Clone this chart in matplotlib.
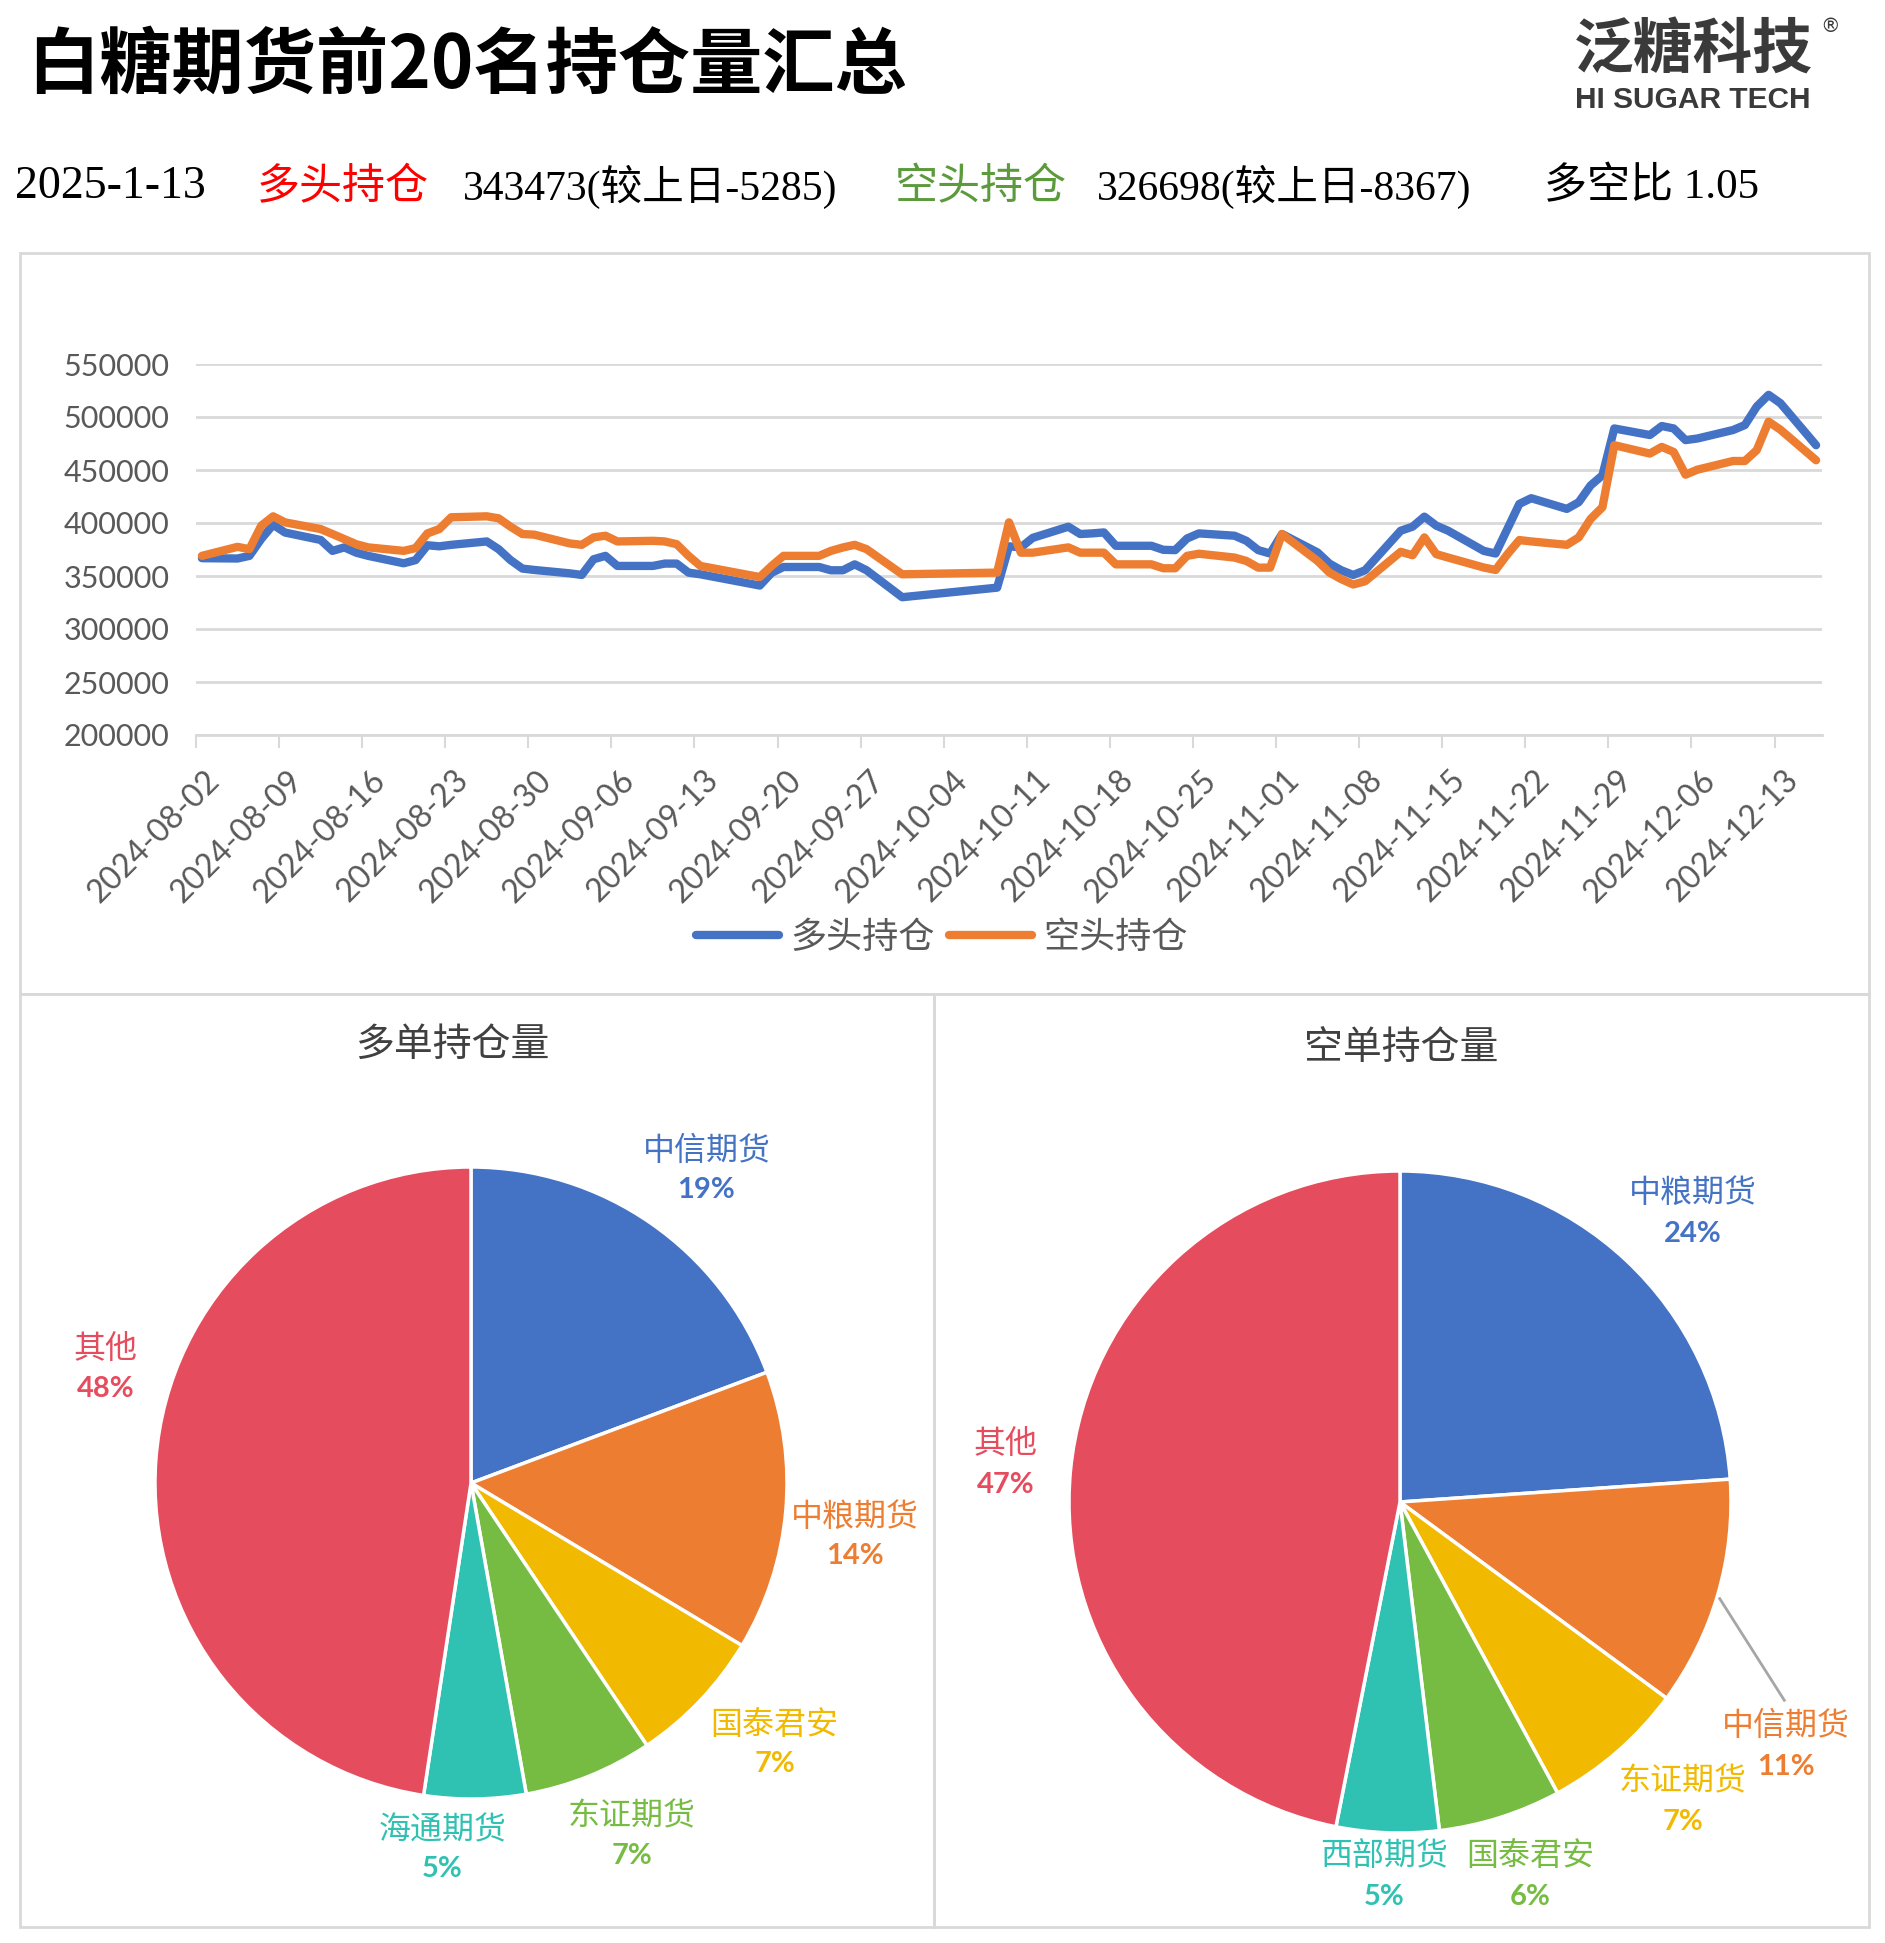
import numpy as np
import pandas as pd
import matplotlib
matplotlib.use("Agg")
import matplotlib.pyplot as plt
import matplotlib.dates as mdates
from matplotlib.transforms import ScaledTranslation
from matplotlib.patches import Rectangle

plt.rcParams['font.family'] = ['Noto Sans CJK SC', 'DejaVu Sans']

# ---- data ----
dates = ['2024-08-02', '2024-08-05', '2024-08-06', '2024-08-07', '2024-08-08', '2024-08-09',
         '2024-08-12', '2024-08-13', '2024-08-14', '2024-08-15', '2024-08-16',
         '2024-08-19', '2024-08-20', '2024-08-21', '2024-08-22', '2024-08-23',
         '2024-08-26', '2024-08-27', '2024-08-28', '2024-08-29', '2024-08-30',
         '2024-09-02', '2024-09-03', '2024-09-04', '2024-09-05', '2024-09-06',
         '2024-09-09', '2024-09-10', '2024-09-11', '2024-09-12', '2024-09-13',
         '2024-09-18', '2024-09-19', '2024-09-20',
         '2024-09-23', '2024-09-24', '2024-09-25', '2024-09-26', '2024-09-27',
         '2024-09-30', '2024-10-08', '2024-10-09', '2024-10-10', '2024-10-11',
         '2024-10-14', '2024-10-15', '2024-10-16', '2024-10-17', '2024-10-18',
         '2024-10-21', '2024-10-22', '2024-10-23', '2024-10-24', '2024-10-25',
         '2024-10-28', '2024-10-29', '2024-10-30', '2024-10-31', '2024-11-01',
         '2024-11-04', '2024-11-05', '2024-11-06', '2024-11-07', '2024-11-08',
         '2024-11-11', '2024-11-12', '2024-11-13', '2024-11-14', '2024-11-15',
         '2024-11-18', '2024-11-19', '2024-11-20', '2024-11-21', '2024-11-22',
         '2024-11-25', '2024-11-26', '2024-11-27', '2024-11-28', '2024-11-29',
         '2024-12-02', '2024-12-03', '2024-12-04', '2024-12-05', '2024-12-06',
         '2024-12-09', '2024-12-10', '2024-12-11', '2024-12-12', '2024-12-13',
         '2024-12-16']

long_pos = [366800, 366500, 369000, 385000, 398400, 391000,
            384000, 373700, 377000, 372000, 369000,
            362000, 365000, 379000, 378000, 379400,
            382600, 375300, 365000, 357000, 355700,
            352500, 351000, 365800, 369000, 359500,
            359500, 361700, 361700, 353200, 351600,
            341000, 353000, 358500,
            358500, 355400, 355400, 361000, 355400,
            330000, 339000, 378000, 377000, 386000,
            396500, 389600, 390200, 391100, 378500,
            378500, 374700, 374400, 385400, 390200,
            388000, 383200, 374400, 371200, 389600,
            372200, 361700, 355400, 351000, 355400,
            392700, 396500, 406000, 397500, 392700,
            373700, 371200, 394600, 418000, 423400,
            413300, 419600, 435400, 445000, 489200,
            483000, 491500, 489200, 478200, 479700,
            487700, 492400, 509800, 520900, 513000,
            473400]

short_pos = [369000, 377500, 375300, 397500, 406300, 400600,
             394300, 389600, 384800, 380000, 377000,
             373700, 376300, 390200, 394300, 405400,
             406300, 404400, 396500, 389600, 389000,
             380700, 379400, 386400, 388000, 382600,
             383200, 382600, 380000, 369000, 359500,
             349000, 359500, 369000,
             369000, 373700, 376900, 379400, 375300,
             351600, 353200, 400600, 372000, 372000,
             377000, 372000, 372000, 372000, 361000,
             361000, 357300, 357300, 369000, 371000,
             367400, 364200, 357900, 357900, 389600,
             364200, 353200, 347000, 342000, 345000,
             372800, 369600, 386400, 370600, 367400,
             358000, 355700, 370600, 383900, 382600,
             379400, 386400, 403800, 414900, 473400,
             465500, 471800, 467000, 445600, 450300,
             458500, 458500, 468700, 495600, 488000,
             459200]

series_names = ['多头持仓', '空头持仓']

long_brokers = ['中信期货', '中粮期货', '国泰君安', '东证期货', '海通期货', '其他']
long_share = [19.3, 14.3, 7.0, 6.6, 5.2, 47.6]
short_brokers = ['中粮期货', '中信期货', '东证期货', '国泰君安', '西部期货', '其他']
short_share = [23.9, 11.2, 7.0, 6.0, 5.0, 46.9]

# ---- figure ----
W, H = 1885, 1943
fig = plt.figure(figsize=(W / 100, H / 100), dpi=100)
fig.patch.set_facecolor('white')

blue = '#4472C4'
orange = '#ED7D31'
pie_colors = ['#4472C4', '#ED7D31', '#F1BA00', '#76BC42', '#2FC1B2', '#E54C5E']
grid_c = '#D9D9D9'
txt_c = '#595959'

# cadres des panneaux
for (x0, y0, x1, y1) in [(20, 253, 1869, 994), (20, 994, 934, 1927), (934, 994, 1869, 1927)]:
    fig.patches.append(Rectangle((x0 / W, 1 - y1 / H), (x1 - x0) / W, (y1 - y0) / H,
                                 transform=fig.transFigure, fill=False,
                                 edgecolor=grid_c, linewidth=2))

# titre + entete
fig.text(27 / W, 1 - 66 / H, '白糖期货前20名持仓量汇总', fontsize=52, fontweight='bold',
         va='center', ha='left', color='black')
fig.text(1574 / W, 1 - 52 / H, '泛糖科技', fontsize=43, fontweight='bold',
         va='center', ha='left', color='#3A3A3A')
fig.text(1575 / W, 1 - 100 / H, 'HI SUGAR TECH', fontsize=21.5, fontweight='bold',
         family='Liberation Sans', va='center', ha='left', color='#3A3A3A')
fig.text(1830 / W, 1 - 26 / H, '®', fontsize=14, family='DejaVu Sans',
         va='center', ha='center', color='#3A3A3A')

mixed = ['Liberation Serif', 'Noto Sans CJK SC']
hy = 1 - 187 / H
fig.text(15 / W, hy, '2025-1-13', fontsize=33, family=mixed, va='center', ha='left')
fig.text(257 / W, hy, '多头持仓', fontsize=31, color='#FF0000', va='center', ha='left')
fig.text(463 / W, hy, '343473(较上日-5285)', fontsize=30, family=mixed, va='center', ha='left')
fig.text(895 / W, hy, '空头持仓', fontsize=31, color='#5B9B3C', va='center', ha='left')
fig.text(1097 / W, hy, '326698(较上日-8367)', fontsize=30, family=mixed, va='center', ha='left')
fig.text(1544 / W, hy, '多空比 1.05', fontsize=31, family=mixed, va='center', ha='left')

# ---- graphique en lignes ----
ax = fig.add_axes([196 / W, 1 - 735 / H, (1822 - 196) / W, (735 - 364) / H])
xd = mdates.date2num(pd.to_datetime(dates)) + 0.5
ax.plot(xd, long_pos, color=blue, lw=6, solid_joinstyle='round', solid_capstyle='round',
        label=series_names[0])
ax.plot(xd, short_pos, color=orange, lw=6, solid_joinstyle='round', solid_capstyle='round',
        label=series_names[1])

ax.set_xlim(mdates.date2num(pd.Timestamp('2024-08-02')), mdates.date2num(pd.Timestamp('2024-12-17')))
ax.set_ylim(200000, 550000)
ax.set_yticks(np.arange(200000, 550001, 50000))
ticks = pd.date_range('2024-08-02', '2024-12-13', freq='7D')
ax.set_xticks(mdates.date2num(ticks))
ax.set_xticklabels([t.strftime('%Y-%m-%d') for t in ticks])
ax.yaxis.grid(True, color=grid_c, lw=2)
ax.set_axisbelow(True)
for s in ['top', 'right', 'left']:
    ax.spines[s].set_visible(False)
ax.spines['bottom'].set_color(grid_c)
ax.spines['bottom'].set_linewidth(2)
ax.tick_params(axis='y', length=0, pad=19, labelsize=22, labelcolor=txt_c)
ax.tick_params(axis='x', length=9, width=1.5, color=grid_c, pad=0,
               labelsize=23, labelcolor=txt_c)
for lab in ax.get_yticklabels():
    lab.set_family('Lato')
off = ScaledTranslation(0.19, -0.28, fig.dpi_scale_trans)
for lab in ax.get_xticklabels():
    lab.set_family('Lato')
    lab.set_rotation(45)
    lab.set_ha('right')
    lab.set_va('center')
    lab.set_rotation_mode('anchor')
    lab.set_transform(lab.get_transform() + off)

fig.legend(loc='center', bbox_to_anchor=(942 / W, 1 - 938 / H), ncol=2, frameon=False,
           fontsize=26, handlelength=2.3, handletextpad=0.3, columnspacing=0.4,
           labelcolor=txt_c)


# ---- camemberts ----
def draw_pie(cx, cy, r, vals, names, pos, title, tx, ty, leader=None):
    k = 1.5
    side = 2 * r * k
    pa = fig.add_axes([(cx - r * k) / W, 1 - (cy + r * k) / H, side / W, side / H])
    pa.pie(vals, colors=pie_colors, startangle=90, counterclock=False, radius=1,
           wedgeprops=dict(edgecolor='white', linewidth=2.5))
    pa.set_xlim(-k, k)
    pa.set_ylim(-k, k)
    pa.set_aspect('equal')
    pa.axis('off')
    for name, v, (lx, ly), c in zip(names, vals, pos, pie_colors):
        pa.text(lx, ly + 0.062, name, color=c, fontsize=23, ha='center', va='center')
        pa.text(lx, ly - 0.062, f'{round(v)}%', color=c, fontsize=21, fontweight='bold',
                family='Lato', ha='center', va='center')
    if leader is not None:
        pa.plot(leader[0], leader[1], color='#A6A6A6', lw=2)
    fig.text(tx / W, 1 - ty / H, title, fontsize=28, color='#404040', ha='center', va='center')


long_lab_pos = [(0.745, 0.988), (1.216, -0.169), (0.961, -0.827), (0.510, -1.118),
                (-0.090, -1.161), (-1.157, 0.361)]
short_lab_pos = [(0.884, 0.873), (1.165, -0.738), (0.854, -0.906), (0.393, -1.131),
                 (-0.049, -1.131), (-1.191, 0.112)]

draw_pie(471, 1483, 316, long_share, long_brokers, long_lab_pos, '多单持仓量', 452, 1045)
draw_pie(1400, 1502, 331, short_share, short_brokers, short_lab_pos, '空单持仓量', 1401, 1048,
         leader=([0.966, 1.161], [-0.292, -0.599]))

fig.savefig('out.png', dpi=100, facecolor='white')
